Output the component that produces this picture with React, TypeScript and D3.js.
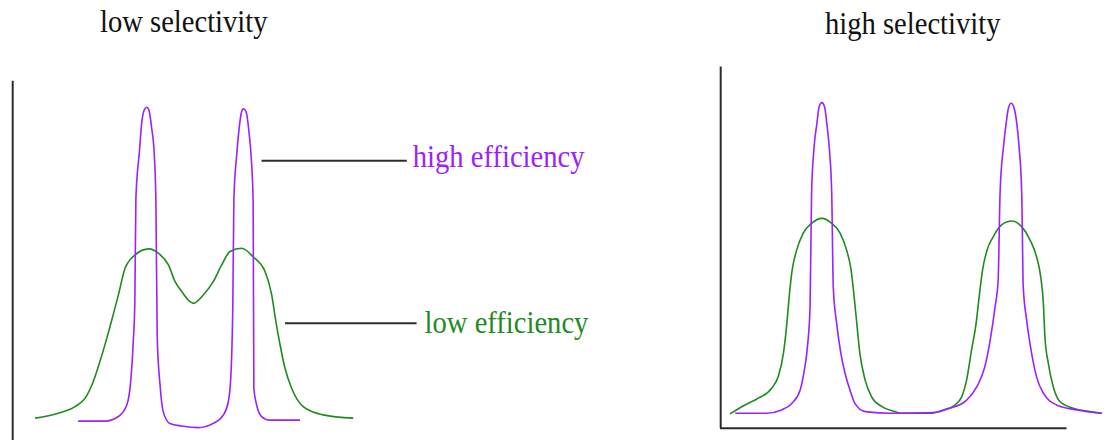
import * as d3 from 'd3'

const W = 1108
const H = 440

// retention time (0-10) / detector signal (0-100)
const LEFT_HIGH_T = [1.89, 2.66, 3.04, 3.28, 3.4, 3.47, 3.51, 3.54, 3.64, 3.71, 3.78, 3.85, 3.91, 3.99, 4.06, 4.11, 4.15, 4.23, 4.32, 4.51, 4.85, 5.32, 5.75, 6.04, 6.18, 6.25, 6.31, 6.34, 6.42, 6.49, 6.56, 6.61, 6.69, 6.77, 6.83, 6.89, 6.91, 6.99, 7.13, 7.37, 8.23]
const LEFT_HIGH_V = [2.1, 2.1, 3.5, 7.0, 15.2, 27.4, 38.5, 70.1, 84.2, 93.4, 97.0, 97.8, 97.0, 91.5, 84.2, 70.1, 27.4, 13.1, 5.0, 1.4, 0.6, 0.1, 1.4, 4.0, 8.0, 15.2, 38.5, 70.0, 83.2, 91.4, 96.4, 97.3, 96.4, 90.3, 83.2, 69.0, 12.1, 7.0, 3.5, 2.4, 2.4]

const LEFT_LOW_T = [0.66, 1.32, 1.8, 2.09, 2.32, 2.51, 2.71, 2.89, 3.04, 3.23, 3.51, 3.91, 4.18, 4.47, 4.66, 4.85, 5.04, 5.18, 5.47, 5.75, 5.99, 6.23, 6.56, 6.89, 7.23, 7.42, 7.54, 7.66, 7.8, 7.99, 8.32, 8.89, 9.75]
const LEFT_LOW_V = [3.0, 4.5, 6.5, 9.1, 14.1, 20.2, 27.4, 34.5, 40.6, 48.7, 52.7, 54.6, 53.3, 49.7, 44.6, 41.6, 39.0, 38.0, 40.6, 44.6, 49.7, 53.8, 54.8, 52.2, 47.7, 40.6, 32.4, 25.3, 18.2, 12.1, 6.5, 4.0, 3.0]

const RIGHT_HIGH_T = [0.4, 1.23, 1.62, 1.89, 2.11, 2.22, 2.31, 2.37, 2.41, 2.47, 2.55, 2.61, 2.68, 2.75, 2.81, 2.88, 2.94, 2.98, 3.07, 3.18, 3.29, 3.42, 3.55, 3.82, 4.52, 5.61, 6.05, 6.49, 6.76, 6.97, 7.11, 7.24, 7.32, 7.37, 7.46, 7.53, 7.59, 7.66, 7.74, 7.81, 7.87, 7.94, 7.98, 8.07, 8.2, 8.33, 8.51, 8.86, 9.39, 10.05]
const RIGHT_HIGH_V = [4.5, 4.5, 5.5, 7.5, 11.6, 17.7, 25.8, 37.0, 71.6, 84.8, 92.9, 98.0, 99.2, 98.0, 92.9, 84.8, 71.6, 43.1, 31.9, 22.8, 16.7, 11.6, 7.5, 5.0, 4.5, 4.7, 6.0, 8.5, 12.6, 18.7, 26.8, 37.0, 45.1, 71.6, 85.8, 92.9, 97.5, 99.0, 97.5, 92.9, 85.8, 71.6, 43.1, 32.9, 22.8, 15.6, 10.6, 7.0, 5.5, 4.5]

const RIGHT_LOW_T = [0.26, 0.66, 1.01, 1.36, 1.53, 1.67, 1.76, 1.82, 1.9, 2.02, 2.19, 2.41, 2.68, 2.94, 3.16, 3.33, 3.45, 3.53, 3.6, 3.68, 3.82, 3.99, 4.26, 4.61, 4.74, 5.53, 5.88, 6.18, 6.36, 6.49, 6.62, 6.74, 6.82, 6.91, 7.03, 7.19, 7.41, 7.68, 7.94, 8.16, 8.33, 8.44, 8.51, 8.55, 8.64, 8.77, 8.95, 9.3, 9.74, 10.05]
const RIGHT_LOW_V = [4.3, 7.0, 9.1, 12.1, 15.6, 22.8, 31.9, 40.0, 48.2, 54.3, 59.4, 62.4, 63.9, 62.4, 59.4, 54.3, 48.2, 40.0, 31.9, 22.8, 14.6, 9.5, 6.5, 5.0, 4.5, 4.5, 5.5, 7.0, 9.5, 14.6, 23.8, 31.9, 40.0, 48.2, 54.3, 58.3, 61.9, 63.1, 61.4, 57.3, 52.2, 46.1, 38.0, 27.8, 19.7, 12.6, 8.0, 6.0, 5.0, 4.5]

const TITLES = ['low selectivity', 'high selectivity']
const LABELS = ['high efficiency', 'low efficiency']
// leader lines in the left panel: start t, end t, signal level
const LEADER_T0 = [7.13, 7.8]
const LEADER_T1 = [11.28, 11.56]
const LEADER_V = [81.5, 31.9]

const PURPLE = '#9a22ff'
const GREEN = '#1f8b1f'
const AXIS = '#2b2b2b'
const FONT = '"Liberation Serif", "Times New Roman", serif'

const zip = (t: number[], v: number[]) => t.map((d, i) => [d, v[i]] as [number, number])

export default function App() {
  const xLeft = d3.scaleLinear().domain([0, 10]).range([12, 362])
  const xRight = d3.scaleLinear().domain([0, 10]).range([720, 1100])
  const y = d3.scaleLinear().domain([0, 100]).range([428, 100])

  const lineL = d3.line<[number, number]>().x(d => xLeft(d[0])).y(d => y(d[1])).curve(d3.curveMonotoneX)
  const lineR = d3.line<[number, number]>().x(d => xRight(d[0])).y(d => y(d[1])).curve(d3.curveMonotoneX)

  const textStyle = { fontFamily: FONT, fontSize: 28.6 }
  const stretch = (x: number, yy: number) => `translate(${x},${yy}) scale(1,1.14)`

  return (
    <svg width={W} height={H} style={{ position: 'absolute', left: 0, top: 0, background: '#fff' }}>
      {/* axes */}
      <line x1={xLeft(0) + 0.7} x2={xLeft(0) + 0.7} y1={y(105.9)} y2={y(-5)} stroke={AXIS} strokeWidth={2} />
      <line x1={xRight(0) + 0.7} x2={xRight(0) + 0.7} y1={y(110.2)} y2={y(0)} stroke={AXIS} strokeWidth={2} />
      <line x1={xRight(0)} x2={xRight(9.12)} y1={y(0) + 0.3} y2={y(0) + 0.3} stroke={AXIS} strokeWidth={2} />

      {/* left panel */}
      <path d={lineL(zip(LEFT_LOW_T, LEFT_LOW_V)) || ''} fill="none" stroke={GREEN} strokeWidth={1.6} />
      <path d={lineL(zip(LEFT_HIGH_T, LEFT_HIGH_V)) || ''} fill="none" stroke={PURPLE} strokeWidth={1.6} />

      {/* right panel */}
      <path d={lineR(zip(RIGHT_LOW_T, RIGHT_LOW_V)) || ''} fill="none" stroke={GREEN} strokeWidth={1.6} />
      <path d={lineR(zip(RIGHT_HIGH_T, RIGHT_HIGH_V)) || ''} fill="none" stroke={PURPLE} strokeWidth={1.6} />

      {/* leaders + labels */}
      {LABELS.map((lab, i) => (
        <g key={lab}>
          <line
            x1={xLeft(LEADER_T0[i])} x2={xLeft(LEADER_T1[i])}
            y1={y(LEADER_V[i])} y2={y(LEADER_V[i])}
            stroke={AXIS} strokeWidth={2}
          />
          <text
            transform={stretch(xLeft(LEADER_T1[i]) + (i === 0 ? 6 : 8), y(LEADER_V[i]) + (i === 0 ? 6.5 : 10))}
            fill={i === 0 ? PURPLE : GREEN}
            style={textStyle}
          >{lab}</text>
        </g>
      ))}

      {/* titles */}
      <text transform={stretch(100, 31.7)} fill="#111" style={textStyle}>{TITLES[0]}</text>
      <text transform={stretch(825, 34.3)} fill="#111" style={textStyle}>{TITLES[1]}</text>
    </svg>
  )
}
